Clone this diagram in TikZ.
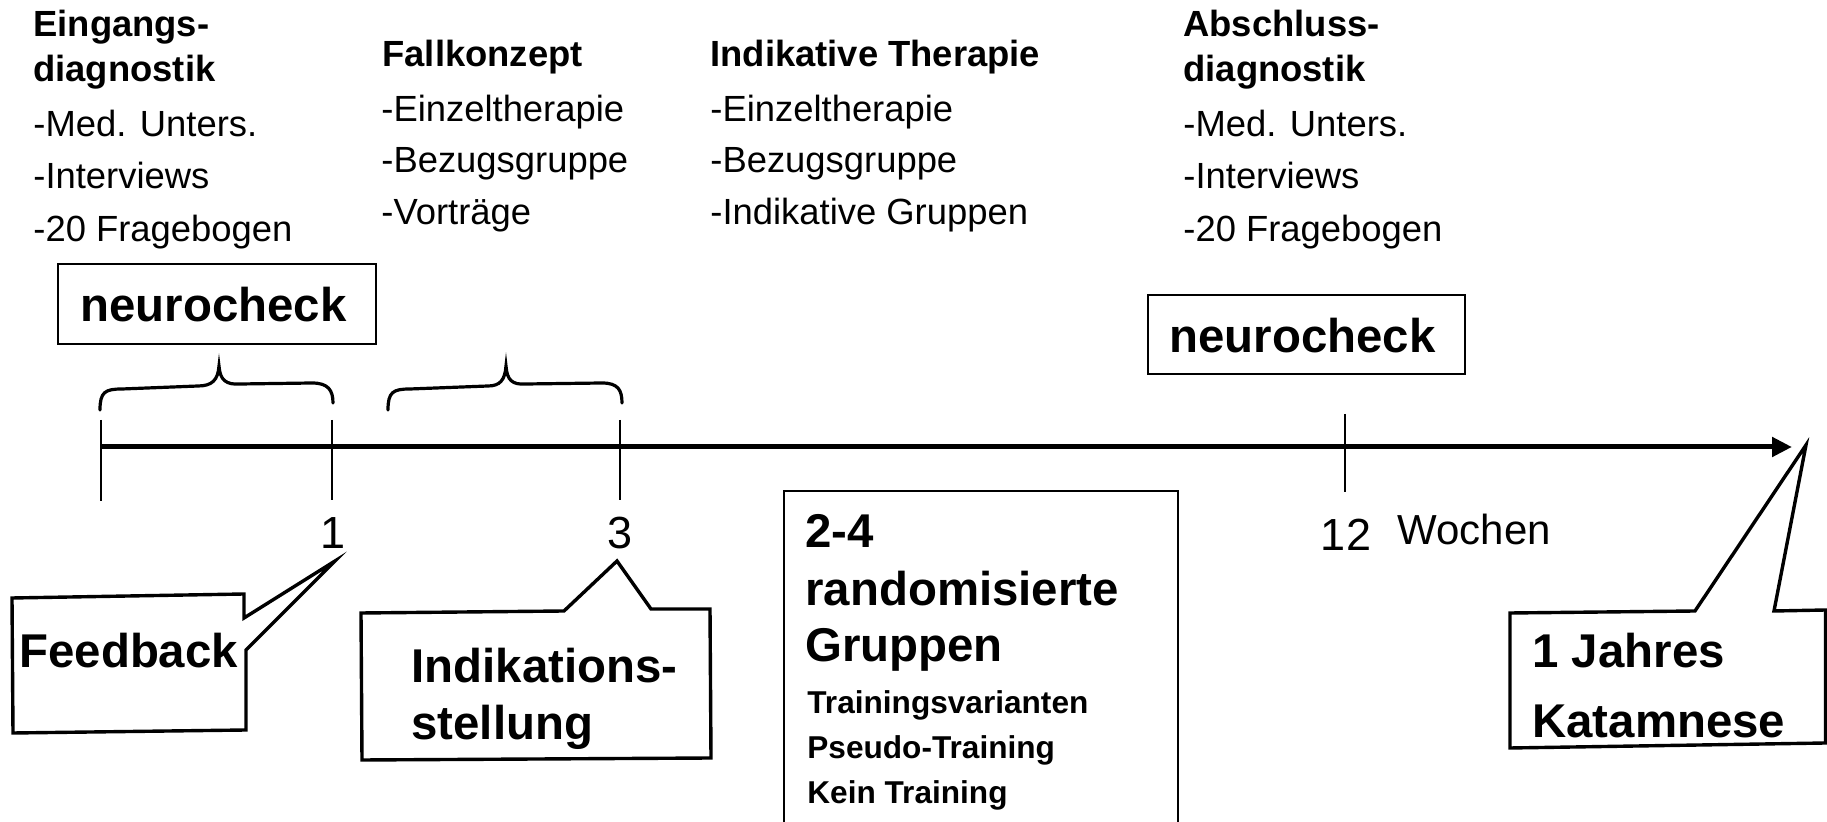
\documentclass[tikz,border=0pt]{standalone}
\usepackage{fontspec}
\setmainfont{Liberation Sans}
\usetikzlibrary{arrows.meta}
\begin{document}
\begin{tikzpicture}[x=0.5pt,y=-0.5pt,
  txt/.style={anchor=base west, inner sep=0pt, font=\fontsize{18.2}{20}\selectfont},
  head/.style={anchor=base west, inner sep=0pt, font=\fontsize{18.2}{20}\selectfont\bfseries},
  big/.style={anchor=base west, inner sep=0pt, font=\fontsize{23.7}{26}\selectfont\bfseries},
  small/.style={anchor=base west, inner sep=0pt, font=\fontsize{15.8}{18}\selectfont\bfseries},
  num/.style={anchor=base, inner sep=0pt, font=\fontsize{22.5}{24}\selectfont},
  tickline/.style={line width=0.8pt},
  bracket/.style={line width=1.6pt, line cap=round},
  callout/.style={line width=1.7pt, line join=miter, fill=white},
  plainbox/.style={line width=0.9pt},
  axis/.style={line width=2.5pt, -{Triangle[length=10pt,width=9.5pt]}}
]
\fill[white] (0,0) rectangle (1827,822);
\useasboundingbox (0,0) rectangle (1827,822);

% column 1
\node[head] (c1a) at (33,37) {Eingangs-};
\node[head] (c1b) at (33,82) {diagnostik};
\node[txt] (c1c) at (33,136.5) {-Med. Unters.};
\node[txt] (c1d) at (33,189) {-Interviews};
\node[txt] (c1e) at (33,242) {-20 Fragebogen};
% column 2
\node[head] (c2a) at (382,66.7) {Fallkonzept};
\node[txt] (c2b) at (381,121.7) {-Einzeltherapie};
\node[txt] (c2c) at (381,173) {-Bezugsgruppe};
\node[txt] (c2d) at (381,225) {-Vorträge};
% column 3
\node[head] (c3a) at (710,66.7) {Indikative Therapie};
\node[txt] (c3b) at (710,121.7) {-Einzeltherapie};
\node[txt] (c3c) at (710,173) {-Bezugsgruppe};
\node[txt] (c3d) at (710,225) {-Indikative Gruppen};
% column 4
\node[head] (c4a) at (1183,37) {Abschluss-};
\node[head] (c4b) at (1183,82) {diagnostik};
\node[txt] (c4c) at (1183,136.5) {-Med. Unters.};
\node[txt] (c4d) at (1183,189) {-Interviews};
\node[txt] (c4e) at (1183,242) {-20 Fragebogen};

% neurocheck boxes
\draw[plainbox] (58,264) rectangle (376,344);
\node[big] (nc1) at (80,321.5) {neurocheck};
\draw[plainbox] (1148,295) rectangle (1465,374);
\node[big] (nc2) at (1169,352.5) {neurocheck};

% braces
\draw[bracket] (100,410) .. controls (100,392) and (105,389) .. (122,389) -- (198,386)
  .. controls (212,386) and (218,380) .. (219,366)
  .. controls (220,380) and (226,385) .. (240,384) -- (312,383)
  .. controls (328,383) and (333,390) .. (333,403);
\draw[bracket] (388,410) .. controls (388,392) and (393,389) .. (410,389) -- (488,386)
  .. controls (500,386) and (505,380) .. (506,366)
  .. controls (507,380) and (512,385) .. (526,384) -- (602,383)
  .. controls (618,383) and (622,390) .. (622,403);

% ticks
\coordinate (t0a) at (101,420); \coordinate (t0b) at (101,501);
\coordinate (t1a) at (332,420); \coordinate (t1b) at (332,500);
\coordinate (t3a) at (620,420); \coordinate (t3b) at (620,500);
\coordinate (t12a) at (1345,414); \coordinate (t12b) at (1345,492);
\draw[tickline] (t0a) -- (t0b);
\draw[tickline] (t1a) -- (t1b);
\draw[tickline] (t3a) -- (t3b);
\draw[tickline] (t12a) -- (t12b);

% axis
\coordinate (axs) at (101,447);
\coordinate (axe) at (1792,447);
\draw[axis] (axs) -- (axe);

% labels
\node[num] (l1) at (333,549) {1};
\node[num] (l3) at (620,549) {3};
\node[num] (l12) at (1346,551) {12};
\node[txt, font=\fontsize{21}{24}\selectfont] (wo) at (1397,545) {Wochen};

% Feedback callout
\draw[callout] (12,598) -- (244,594) -- (244,618) -- (335,561) -- (246,650) -- (246,730) -- (13,733) -- cycle;
\node[big] (fb) at (19,668) {Feedback};

% Indikationsstellung callout
\draw[callout] (361,613) -- (564,611) -- (617,561) -- (651,609) -- (710,609) -- (711,758) -- (362,760) -- cycle;
\node[big] (is1) at (411,683) {Indikations-};
\node[big] (is2) at (411,740) {stellung};

% Katamnese callout
\draw[callout] (1510,613) -- (1695,611) -- (1806,445) -- (1774,611) -- (1825.5,610) -- (1825.5,743) -- (1510,748) -- cycle;
\node[big] (k1) at (1532,668) {1 Jahres};
\node[big] (k2) at (1532,738) {Katamnese};

% groups box
\draw[plainbox] (784,840) -- (784,491) -- (1178,491) -- (1178,840);
\node[big] (g1) at (805,548) {2-4};
\node[big] (g2) at (805,606) {randomisierte};
\node[big] (g3) at (805,662) {Gruppen};
\node[small] (g4) at (807,714) {Trainingsvarianten};
\node[small] (g5) at (807,759) {Pseudo-Training};
\node[small] (g6) at (807,804) {Kein Training};
\end{tikzpicture}
\end{document}
